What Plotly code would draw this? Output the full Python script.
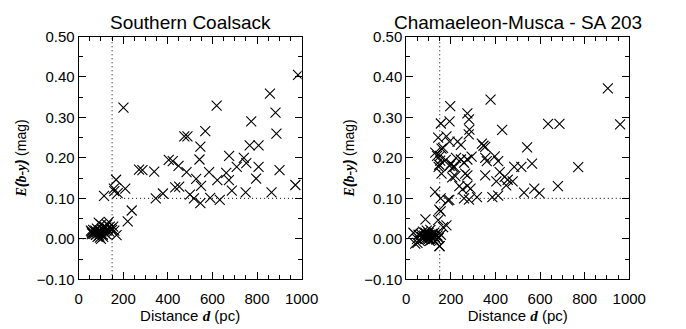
import plotly.graph_objects as go

# ---------------- data ----------------
coal_d = [984, 858, 619, 883, 774, 887, 568, 474, 488, 546, 767, 807, 542, 675, 741, 752, 709, 807, 901,
          422, 448, 404, 484, 585, 662, 527, 622, 674, 796, 549, 433, 451, 687, 749, 865, 972, 499, 517,
          546, 590, 633, 378, 201, 271, 286, 339, 346, 114, 168, 158, 160, 175, 209, 238, 220, 170,
          55, 60, 65, 68, 72, 75, 78, 80, 85, 88, 90, 92, 95, 98, 100, 102, 105, 108, 110, 112, 115, 118,
          120, 122, 125, 128, 130, 135, 138, 140, 145, 150, 155, 160, 90, 82, 100, 58, 62]
coal_e = [0.405, 0.359, 0.329, 0.312, 0.290, 0.260, 0.266, 0.253, 0.253, 0.228, 0.231, 0.231, 0.196, 0.205,
          0.200, 0.187, 0.178, 0.178, 0.170, 0.192, 0.180, 0.195, 0.165, 0.165, 0.163, 0.148, 0.145, 0.145,
          0.149, 0.131, 0.127, 0.129, 0.119, 0.115, 0.115, 0.133, 0.109, 0.100, 0.088, 0.101, 0.096, 0.112,
          0.324, 0.171, 0.170, 0.166, 0.100, 0.106, 0.146, 0.124, 0.118, 0.113, 0.124, 0.070, 0.043, 0.009,
          0.020, 0.015, 0.022, 0.012, 0.018, 0.020, 0.010, 0.016, 0.005, 0.014, 0.020, 0.008, 0.003, 0.012,
          0.035, 0.018, 0.025, 0.010, 0.005, 0.022, 0.030, 0.015, 0.028, 0.012, 0.020, 0.035, 0.025, 0.042,
          0.018, 0.030, 0.025, 0.022, 0.030, 0.020, 0.040, 0.025, 0.000, 0.018, 0.012]

cham_d = [904, 959, 636, 687, 378, 430, 542, 197, 155, 194, 274, 281, 283, 280, 143, 180, 165, 158, 194,
          230, 245, 339, 346, 354,
          151, 177, 201, 216, 148, 158, 194, 209, 223, 245, 206, 220, 259, 274, 293, 264, 274, 238, 252,
          274, 288, 259, 281, 317, 354, 361, 397, 412, 354, 404, 419, 441, 455, 448, 477, 386, 412, 484,
          516, 564, 771, 528, 574, 597, 680, 129, 154, 187, 148, 154, 143, 165, 180, 86, 148,
          130, 138, 152, 145, 193,
          32, 40, 48, 55, 60, 65, 70, 75, 80, 85, 88, 92, 95, 98, 100, 102, 105, 108, 110, 112, 115, 118,
          120, 125, 128, 130, 135, 140, 145, 150, 155, 95, 85, 75, 105, 50]
cham_e = [0.372, 0.283, 0.284, 0.284, 0.344, 0.269, 0.226, 0.328, 0.285, 0.290, 0.310, 0.295, 0.270, 0.258,
          0.250, 0.253, 0.225, 0.223, 0.240, 0.240, 0.232, 0.235, 0.230, 0.227,
          0.205, 0.195, 0.186, 0.178, 0.183, 0.161, 0.180, 0.177, 0.200, 0.196, 0.152, 0.155, 0.188, 0.196,
          0.203, 0.161, 0.157, 0.130, 0.122, 0.131, 0.124, 0.100, 0.097, 0.103, 0.200, 0.192, 0.204, 0.192,
          0.157, 0.142, 0.165, 0.153, 0.146, 0.132, 0.142, 0.103, 0.107, 0.178, 0.178, 0.186, 0.177, 0.114,
          0.124, 0.113, 0.130, 0.116, 0.100, 0.095, 0.072, 0.068, 0.046, 0.029, 0.033, 0.048, -0.018,
          0.213, 0.205, 0.193, 0.178, 0.096,
          0.015, -0.012, 0.000, 0.010, -0.005, 0.012, 0.005, 0.018, 0.008, 0.000, 0.012, 0.020, 0.005, 0.010,
          0.015, 0.000, 0.010, 0.022, 0.005, -0.003, 0.012, 0.008, 0.000, 0.015, 0.005, 0.010, -0.002, 0.008,
          0.002, -0.018, 0.010, 0.000, 0.015, 0.000, -0.005, -0.010]

titles = ["Southern Coalsack", "Chamaeleon-Musca - SA 203"]
d_cut = 150
e_cut = 0.1
x_range = [0, 1000]
y_range = [-0.10, 0.50]
y_ticks = [-0.10, 0.00, 0.10, 0.20, 0.30, 0.40, 0.50]
x_ticks = [0, 200, 400, 600, 800, 1000]

# ---------------- figure ----------------
fig = go.Figure()
W, H = 686, 329
doms = [[77 / W, 307 / W], [415 / W, 645 / W]]
ydom = [1 - 285 / H, 1 - 29 / H]
font = "Liberation Sans"
serif = "Liberation Serif"

for i, (dd, ee) in enumerate([(coal_d, coal_e), (cham_d, cham_e)]):
    xa = "x" if i == 0 else "x2"
    ya = "y" if i == 0 else "y2"
    fig.add_trace(go.Scatter(x=dd, y=ee, mode="markers", xaxis=xa, yaxis=ya,
                             marker=dict(symbol="x-thin-open", size=10, color="black",
                                         line=dict(width=1.1, color="black")),
                             showlegend=False))
    # dotted step lines
    dot = dict(color="black", width=1, dash="1px,3px")
    fig.add_shape(type="line", xref=xa, yref=ya, x0=d_cut, x1=d_cut, y0=y_range[0], y1=y_range[1], line=dot)
    fig.add_shape(type="line", xref=xa, yref=ya, x0=d_cut, x1=x_range[1], y0=e_cut, y1=e_cut, line=dot)
    fig.add_shape(type="line", xref=xa, yref=ya, x0=x_range[0], x1=d_cut, y0=0, y1=0, line=dot)

    axcommon = dict(showline=True, linecolor="black", linewidth=1, mirror="allticks",
                    ticks="inside", tickcolor="black", showgrid=False, zeroline=False,
                    tickfont=dict(family=font, size=15, color="black"))
    xaxis = dict(axcommon, domain=doms[i], range=x_range, tickvals=x_ticks, ticklen=7, tickwidth=1,
                 minor=dict(dtick=50, ticklen=4, tickcolor="black", ticks="inside", tick0=0),
                 anchor=ya, ticklabelstandoff=6,
                 title=dict(text="Distance <b><i><span style='font-family:" + serif + "'>d</span></i></b> (pc)",
                            font=dict(family=font, size=15, color="black"), standoff=2))
    yaxis = dict(axcommon, domain=ydom, range=y_range, tickvals=y_ticks, tickformat=".2f", ticklen=7, tickwidth=1,
                 minor=dict(dtick=0.05, ticklen=4, tickcolor="black", ticks="inside", tick0=0),
                 anchor=xa,
                 title=dict(text="<b><i><span style='font-family:" + serif + "'>E</span>(<span style='font-family:" + serif + "'>b-y</span>)</i></b> (mag)",
                            font=dict(family=font, size=14, color="black"), standoff=6))
    if i == 0:
        fig.update_layout(xaxis=xaxis, yaxis=yaxis)
    else:
        fig.update_layout(xaxis2=xaxis, yaxis2=yaxis)
    fig.add_annotation(text=titles[i], xref="paper", yref="paper",
                       x=(doms[i][0] + doms[i][1]) / 2, y=1 - 14 / H, showarrow=False,
                       xanchor="center", yanchor="middle",
                       font=dict(family=font, size=19, color="black"))

fig.update_layout(width=W, height=H, margin=dict(l=0, r=0, t=0, b=0),
                  paper_bgcolor="white", plot_bgcolor="white")
fig.write_html("out.html")
